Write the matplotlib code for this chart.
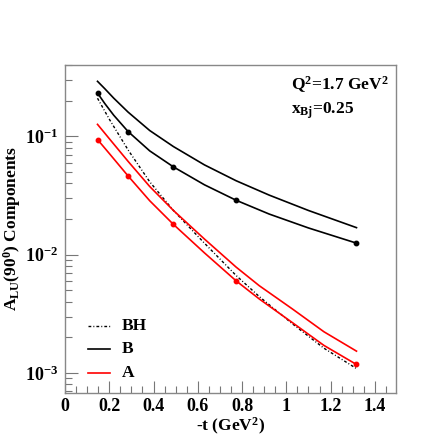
import math

import matplotlib
matplotlib.use("Agg")
import matplotlib.pyplot as plt
from matplotlib.ticker import FixedLocator, MultipleLocator, FuncFormatter, NullFormatter

plt.rcParams["font.family"] = "Liberation Serif"
plt.rcParams["font.weight"] = "bold"
plt.rcParams["mathtext.fontset"] = "custom"
plt.rcParams["mathtext.rm"] = "Liberation Serif:bold"
plt.rcParams["mathtext.it"] = "Liberation Serif:bold"
plt.rcParams["mathtext.bf"] = "Liberation Serif:bold"

t_grid = [0.147, 0.18, 0.22, 0.285, 0.383, 0.49, 0.63, 0.773, 0.923, 1.10, 1.317]
# B, lower black curve (with points)
b_vals = [0.2317, 0.1888, 0.1507, 0.1096, 0.0752, 0.0551, 0.0389, 0.0288, 0.0220, 0.0168, 0.0125]
# B, upper black curve
b2_vals = [0.291, 0.252, 0.210, 0.160, 0.1117, 0.0818, 0.0573, 0.0421, 0.0318, 0.0236, 0.0169]

t_red = [0.147, 0.2, 0.285, 0.383, 0.49, 0.63, 0.773, 0.878, 1.028, 1.17, 1.317]
# A, lower red curve (with points)
a_vals = [0.0938, 0.0716, 0.0462, 0.0285, 0.0180, 0.01035, 0.00601, 0.00422, 0.00266, 0.00171, 0.00118]
# A, upper red curve
a2_vals = [0.126, 0.0955, 0.0614, 0.0376, 0.0236, 0.01355, 0.00785, 0.00546, 0.00347, 0.00223, 0.00153]
# BH
bh_vals = [0.2094, 0.1396, 0.0767, 0.0412, 0.0236, 0.0125, 0.00667, 0.00442, 0.0026, 0.00162, 0.00109]

# points where markers are drawn
t_pts = [0.147, 0.285, 0.49, 0.773, 1.317]
b_pts = [0.2317, 0.1096, 0.0551, 0.0288, 0.0125]
a_pts = [0.0938, 0.0462, 0.0180, 0.00601, 0.00118]

bh_style = (0, (2, 1.5, 0.7, 1.5))

fig = plt.figure(figsize=(4.36, 4.36), dpi=100)
ax = fig.add_axes([0.149, 0.099, 0.759, 0.752])

ax.plot(t_red, bh_vals, color="black", lw=1.0, linestyle=bh_style)
ax.plot(t_grid, b2_vals, color="black", lw=1.2)
ax.plot(t_grid, b_vals, color="black", lw=1.2)
ax.plot(t_red, a2_vals, color="red", lw=1.2)
ax.plot(t_red, a_vals, color="red", lw=1.2)
ax.plot(t_pts, b_pts, "o", color="black", ms=3.2)
ax.plot(t_pts, a_pts, "o", color="red", ms=3.2)

ax.set_yscale("log")
ax.set_xlim(0, 1.495)
ax.set_ylim(6.8e-4, 0.40)

ax.xaxis.set_major_locator(MultipleLocator(0.2))
ax.xaxis.set_minor_locator(MultipleLocator(0.05))
ax.xaxis.set_major_formatter(FuncFormatter(lambda v, p: f"{v:g}"))
ax.yaxis.set_major_locator(FixedLocator([1e-3, 1e-2, 1e-1]))
minors = [m * 10.0 ** e for e in (-4, -3, -2, -1) for m in range(2, 10)]
ax.yaxis.set_minor_locator(FixedLocator(minors))
ax.yaxis.set_minor_formatter(NullFormatter())
ax.yaxis.set_major_formatter(FuncFormatter(lambda v, p: r"$10^{%d}$" % round(math.log10(v))))

ax.tick_params(axis="both", which="both", direction="in", top=False, right=False,
               color="#777777", labelsize=13)
ax.tick_params(axis="both", which="major", length=9, width=0.8)
ax.tick_params(axis="both", which="minor", length=5, width=0.8)
ax.tick_params(axis="x", pad=4)
ax.tick_params(axis="y", pad=5)
for s in ax.spines.values():
    s.set_color("#888888")
    s.set_linewidth(1.0)

ax.set_xlabel(r"-t (GeV$^2$)", fontsize=12.5, fontweight="bold", labelpad=0)
ax.set_ylabel(r"A$_{\rm LU}$(90$^0$) Components", fontsize=12.5, fontweight="bold", labelpad=1)

ax.text(0.682, 0.94, r"Q$^2$=1.7 GeV$^2$", transform=ax.transAxes, fontsize=12.5,
        fontweight="bold", va="center")
ax.text(0.682, 0.86, r"x$_{\rm Bj}$=0.25", transform=ax.transAxes, fontsize=12.5,
        fontweight="bold", va="center")

# legend
leg_items = [("BH", "black", bh_style, 1.0),
             ("B", "black", "-", 1.2),
             ("A", "red", "-", 1.2)]
leg_y = [0.204, 0.133, 0.061]
for (lab, col, ls, lw), yy in zip(leg_items, leg_y):
    ax.plot([0.069, 0.136], [yy, yy], transform=ax.transAxes, color=col, ls=ls, lw=lw)
    ax.text(0.172, yy, lab, transform=ax.transAxes, fontsize=12.5, fontweight="bold", va="center")

fig.savefig("out.png", dpi=100)
